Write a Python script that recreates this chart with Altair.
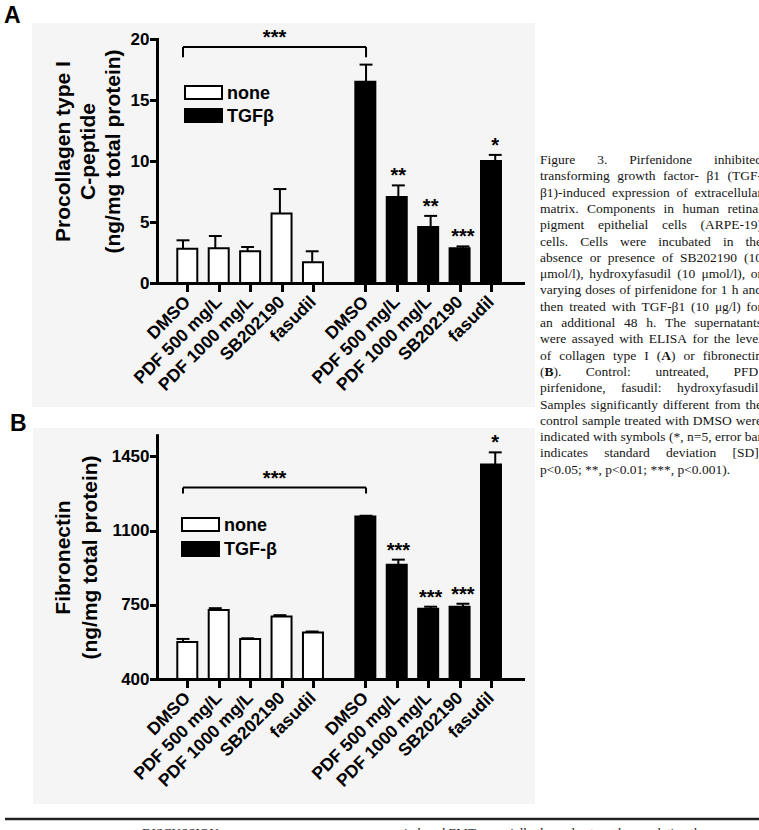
import altair as alt
import pandas as pd

W, H = 759, 830
SANS = "Liberation Sans"
SERIF = "Liberation Serif"

# ---- data -------------------------------------------------------------
treatments = ["DMSO", "PDF 500 mg/L", "PDF 1000 mg/L", "SB202190", "fasudil"]
groups = ["none", "TGF"]

# Panel A: procollagen type I C-peptide (ng/mg total protein), mean and SD
procol_none = [2.8, 2.85, 2.6, 5.7, 1.7]
procol_none_sd = [0.7, 1.0, 0.35, 2.0, 0.9]
procol_tgf = [16.5, 7.05, 4.6, 2.85, 10.0]
procol_tgf_sd = [1.4, 0.95, 0.9, 0.15, 0.5]
procol_sig = ["", "**", "**", "***", "*"]

# Panel B: fibronectin (ng/mg total protein), mean and SD
fibro_none = [575, 726, 589, 695, 619]
fibro_none_sd = [14, 8, 3, 6, 5]
fibro_tgf = [1166, 939, 731, 741, 1412]
fibro_tgf_sd = [4, 24, 10, 14, 57]
fibro_sig = ["", "***", "***", "***", "*"]

caption_lines = [
    "Figure 3. Pirfenidone inhibited",
    "transforming growth factor- β1 (TGF-",
    "β1)-induced expression of extracellular",
    "matrix. Components in human retinal",
    "pigment epithelial cells (ARPE-19)",
    "cells. Cells were incubated in the",
    "absence or presence of SB202190 (10",
    "μmol/l), hydroxyfasudil (10 μmol/l), or",
    "varying doses of pirfenidone for 1 h and",
    "then treated with TGF-β1 (10 μg/l) for",
    "an additional 48 h. The supernatants",
    "were assayed with ELISA for the level",
    "of collagen type I ({A}) or fibronectin",
    "({B}). Control: untreated, PFD:",
    "pirfenidone, fasudil: hydroxyfasudil.",
    "Samples significantly different from the",
    "control sample treated with DMSO were",
    "indicated with symbols (*, n=5, error bar",
    "indicates standard deviation [SD],",
    "p<0.05; **, p<0.01; ***, p<0.001).",
]

# ---- layout -----------------------------------------------------------
group_gap = 2 / 3          # extra space between the two treatment groups
cap_half = 0.2             # half width of the error-bar caps (x units)
x_domain = [-0.805, 10.526]
x_range = [157, 523]

positions = list(range(5)) + [i + 5 + group_gap for i in range(5)]
names = treatments + treatments


def label_expr(pos, labels):
    expr = "''"
    for p, n in reversed(list(zip(pos, labels))):
        expr = f"abs(datum.value - {p:.4f}) < 0.01 ? '{n}' : ({expr})"
    return expr


LABEL_EXPR = label_expr(positions, names)

axis_common = dict(
    domainColor="black", domainWidth=3, domainCap="square",
    tickColor="black", tickWidth=3, tickCap="square",
    labelColor="black", labelFont=SANS, labelFontWeight="bold",
    grid=False, zindex=1,
    labelFlush=False, labelOverlap=False, labelBound=False,
)


def panel_frame(none_vals, none_sd, tgf_vals, tgf_sd, sig, base):
    rows = []
    for i in range(5):
        rows.append(dict(pos=positions[i], group="none", val=none_vals[i],
                         sd=none_sd[i], sig=""))
    for i in range(5):
        rows.append(dict(pos=positions[5 + i], group="TGF", val=tgf_vals[i],
                         sd=tgf_sd[i], sig=sig[i]))
    df = pd.DataFrame(rows)
    df["top"] = df["val"] + df["sd"]
    df["capL"] = df["pos"] - cap_half
    df["capR"] = df["pos"] + cap_half
    df["base"] = base
    return df


def panel(df, ydom, yrange, yticks, ytitle, title_x, title_y, title_lh,
          bracket_level, bracket_drop, legend_x, legend_rows, tgf_label):
    xs = alt.Scale(domain=x_domain, range=x_range, nice=False, zero=False)
    ys = alt.Scale(domain=ydom, range=yrange, nice=False, zero=False)

    bars = alt.Chart(df).mark_bar(size=20, stroke="black", strokeWidth=2).encode(
        x=alt.X("pos:Q", scale=xs, axis=alt.Axis(
            orient="bottom", values=positions, labelExpr=LABEL_EXPR,
            labelAngle=315, labelAlign="right", labelBaseline="middle",
            labelFontSize=17.5, labelPadding=9, tickSize=7,
            offset=-(H - yrange[0]), title=None, **axis_common)),
        y=alt.Y("val:Q", scale=ys, axis=alt.Axis(
            orient="left", values=yticks, format="d", tickSize=6,
            labelFontSize=17, labelPadding=2, offset=-x_range[0],
            title=ytitle, titleFont=SANS,
            titleFontSize=21, titleFontWeight="bold", titleColor="black",
            titleLineHeight=title_lh, titleX=title_x, titleY=title_y,
            titleAlign="center", titleBaseline="bottom", titleAngle=270,
            **axis_common)),
        y2=alt.Y2("base:Q"),
        fill=alt.Fill("group:N", scale=alt.Scale(domain=groups,
                                                 range=["white", "black"]),
                      legend=None),
    )

    err = alt.Chart(df).mark_rule(color="black", strokeWidth=2).encode(
        x=alt.X("pos:Q", scale=xs, axis=None),
        y=alt.Y("val:Q", scale=ys, axis=None),
        y2="top:Q",
    )
    caps = alt.Chart(df).mark_rule(color="black", strokeWidth=2).encode(
        x=alt.X("capL:Q", scale=xs, axis=None),
        x2="capR:Q",
        y=alt.Y("top:Q", scale=ys, axis=None),
    )
    stars = alt.Chart(df).mark_text(
        font=SANS, fontWeight="bold", fontSize=20, baseline="alphabetic",
        dy=-3, color="black").encode(
        x=alt.X("pos:Q", scale=xs, axis=None),
        y=alt.Y("top:Q", scale=ys, axis=None),
        text="sig:N",
    )

    left, right = positions[0], positions[5]
    bracket_df = pd.DataFrame({
        "x": [left, left, right],
        "x2": [right, left, right],
        "y": [bracket_level, bracket_level, bracket_level],
        "y2": [bracket_level, bracket_drop, bracket_drop],
    })
    bracket = alt.Chart(bracket_df).mark_rule(color="black", strokeWidth=2).encode(
        x=alt.X("x:Q", scale=xs, axis=None), x2="x2:Q",
        y=alt.Y("y:Q", scale=ys, axis=None), y2="y2:Q",
    )
    bracket_star = alt.Chart(pd.DataFrame({
        "x": [(left + right) / 2], "y": [bracket_level], "t": ["***"]})
    ).mark_text(font=SANS, fontWeight="bold", fontSize=20,
                baseline="alphabetic", dy=-3, color="black").encode(
        x=alt.X("x:Q", scale=xs, axis=None),
        y=alt.Y("y:Q", scale=ys, axis=None),
        text="t:N",
    )

    one = pd.DataFrame({"k": [0]})
    legend = []
    for (y0, y1), fill, txt in zip(legend_rows, ["white", "black"],
                                   ["none", tgf_label]):
        legend.append(alt.Chart(one).mark_rect(
            fill=fill, stroke="black", strokeWidth=2).encode(
            x=alt.value(legend_x), x2=alt.value(legend_x + 37),
            y=alt.value(y0), y2=alt.value(y1)))
        legend.append(alt.Chart(one).mark_text(
            text=txt, font=SANS, fontWeight="bold", fontSize=18,
            align="left", baseline="middle", color="black").encode(
            x=alt.value(legend_x + 42), y=alt.value((y0 + y1) / 2 + 1)))

    return [bars, err, caps, stars, bracket, bracket_star] + legend


df_a = panel_frame(procol_none, procol_none_sd, procol_tgf, procol_tgf_sd,
                   procol_sig, 0)
df_b = panel_frame(fibro_none, fibro_none_sd, fibro_tgf, fibro_tgf_sd,
                   fibro_sig, 400)

layers_a = panel(df_a, [0, 20], [283, 39], [0, 5, 10, 15, 20],
                 ["Procollagen type I", "C-peptide", "(ng/mg total protein)"],
                 -84, 151, 25, 19.35, 18.5, 185, [(86, 99), (109, 122)], "TGFβ")
layers_b = panel(df_b, [400, 1550], [679, 435.2], [400, 750, 1100, 1450],
                 ["Fibronectin", "(ng/mg total protein)"],
                 -84, 557, 27, 1303, 1275, 182, [(518, 531), (542, 556)], "TGF-β")

# ---- caption, justified word by word ------------------------------------
_w = {}
for ch, w in zip("abcdefghijklmnopqrstuvwxyz",
                 [444, 500, 444, 500, 444, 333, 500, 500, 278, 278, 500, 278, 778,
                  500, 500, 500, 500, 333, 389, 278, 500, 500, 722, 500, 500, 444]):
    _w[ch] = w
for ch, w in zip("ABCDEFGHIJKLMNOPQRSTUVWXYZ",
                 [722, 667, 667, 722, 611, 556, 722, 722, 333, 389, 722, 611, 889,
                  722, 722, 556, 722, 667, 556, 611, 722, 722, 944, 722, 722, 611]):
    _w[ch] = w
for d in "0123456789":
    _w[d] = 500
_w.update({" ": 250, ".": 250, ",": 250, ":": 278, ";": 278, "(": 333, ")": 333,
           "-": 333, "[": 333, "]": 333, "*": 500, "=": 564, "<": 564, "/": 278,
           "β": 500, "μ": 500})

CAP_SIZE = 13.5
CAP_LEFT, CAP_RIGHT = 540, 762
CAP_TOP, CAP_STEP = 160, 16.3


def seg_width(s):
    return sum(_w.get(c, 500) for c in s) / 1000 * CAP_SIZE


def split_segments(word):
    segs, bold, cur = [], False, ""
    for c in word:
        if c in "{}":
            if cur:
                segs.append((cur, bold))
            cur, bold = "", c == "{"
        else:
            cur += c
    if cur:
        segs.append((cur, bold))
    return segs


cap_rows = []
for li, line in enumerate(caption_lines):
    words = [split_segments(w) for w in line.split(" ")]
    widths = [sum(seg_width(s) for s, _ in w) for w in words]
    last = li == len(caption_lines) - 1
    if last or len(words) < 2:
        gap = seg_width(" ")
    else:
        gap = (CAP_RIGHT - CAP_LEFT - sum(widths)) / (len(words) - 1)
    x = CAP_LEFT
    y = CAP_TOP + li * CAP_STEP
    for w, ww in zip(words, widths):
        for s, b in w:
            cap_rows.append(dict(x=x, y=y, t=s, bold=b))
            x += seg_width(s)
        x += gap
cap_df = pd.DataFrame(cap_rows)


def caption_layer(bold):
    return alt.Chart(cap_df[cap_df["bold"] == bold]).mark_text(
        font=SERIF, fontSize=CAP_SIZE, fontWeight="bold" if bold else "normal",
        align="left", baseline="middle", color="#151515").encode(
        x=alt.X("x:Q", scale=None, axis=None),
        y=alt.Y("y:Q", scale=None, axis=None),
        text="t:N",
    )


one = pd.DataFrame({"k": [0]})
bg_a = alt.Chart(one).mark_rect(color="#f5f5f5").encode(
    x=alt.value(32), x2=alt.value(535), y=alt.value(23), y2=alt.value(407))
bg_b = alt.Chart(one).mark_rect(color="#f5f5f5").encode(
    x=alt.value(33), x2=alt.value(535), y=alt.value(428), y2=alt.value(804))
rule_bottom = alt.Chart(one).mark_rule(color="#222222", strokeWidth=2.5).encode(
    x=alt.value(5), x2=alt.value(W), y=alt.value(819))
label_a = alt.Chart(one).mark_text(
    text="A", font=SANS, fontWeight="bold", fontSize=23, align="left",
    baseline="alphabetic", color="black").encode(x=alt.value(4), y=alt.value(23))
label_b = alt.Chart(one).mark_text(
    text="B", font=SANS, fontWeight="bold", fontSize=23, align="left",
    baseline="alphabetic", color="black").encode(x=alt.value(10), y=alt.value(431))
# running text of the page below the figure, only its top edge is in view
disc = alt.Chart(one).mark_text(
    text="DISCUSSION", font=SERIF, fontSize=13, align="left",
    baseline="alphabetic", color="#222222").encode(x=alt.value(142), y=alt.value(837))
body = alt.Chart(one).mark_text(
    text="induced EMT, especially the early stage, by regulating the",
    font=SERIF, fontSize=13, align="left", baseline="alphabetic",
    color="#222222").encode(x=alt.value(404), y=alt.value(837))

layers = ([bg_a, bg_b, rule_bottom, label_a, label_b, disc, body,
           caption_layer(False), caption_layer(True)] + layers_a + layers_b)

chart = alt.layer(*layers).resolve_scale(
    x="independent", y="independent", fill="independent"
).properties(
    width=W, height=H, padding=0,
    autosize=alt.AutoSizeParams(type="none"), background="white",
).configure_view(stroke=None)

chart.save("out.html", embed_options={"renderer": "svg", "actions": False})
